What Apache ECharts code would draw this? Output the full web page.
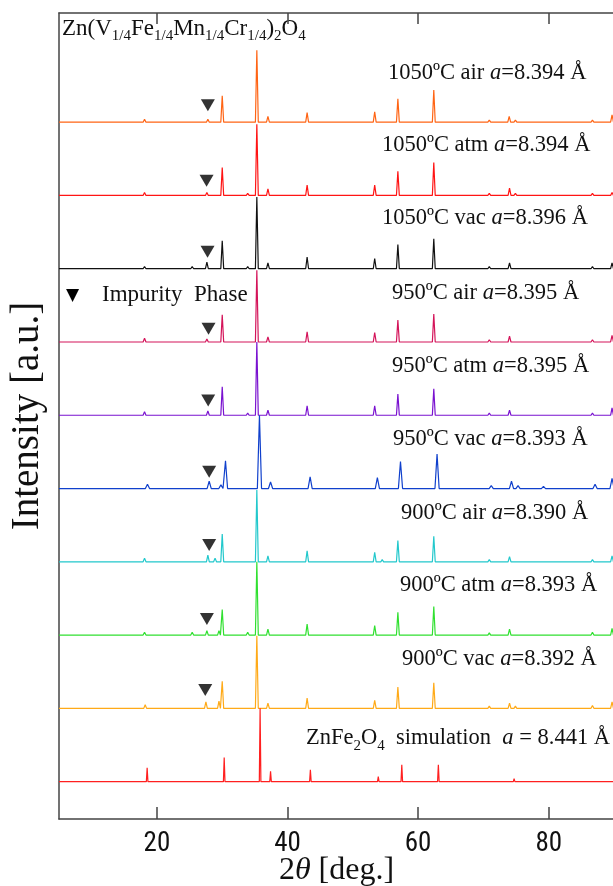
<!DOCTYPE html>
<html><head><meta charset="utf-8">
<script src="https://cdn.jsdelivr.net/npm/echarts/dist/echarts.min.js"></script>
<style>html,body{margin:0;padding:0;background:#fff}#c{width:613px;height:886px}</style>
</head><body><div id="c"></div>
<script>
// ---- data ----
const xTicks = [20, 40, 60, 80];
const xRange = [5, 90];
const yRange = [-51, 1049];
const traceNames = ['1050 air','1050 atm','1050 vac','950 air','950 atm','950 vac','900 air','900 atm','900 vac','ZnFe2O4 sim'];
const traceOffsets = [900, 800, 700, 600, 500, 400, 300, 200, 100, 0];
// peaks: [2theta, relative intensity]
const peaks1050air = [[18.1,4],[27.8,4],[30.0,36],[35.3,98],[37.0,8],[43.0,13],[53.35,14],[56.9,32],[62.4,44],[70.9,3],[73.95,8],[74.9,3],[78.9,2],[86.7,3],[89.7,10]];
const peaks1050atm = [[18.1,4],[25.4,2],[27.65,4],[30.0,38],[31.4,2],[33.9,3],[35.3,97],[37.0,9],[43.0,14],[53.35,14],[56.9,33],[62.4,45],[70.9,3],[74.0,10],[74.9,3],[78.9,2],[86.7,3],[89.7,4]];
const peaks1050vac = [[18.1,3],[25.4,3],[27.65,9],[30.0,38],[31.4,2],[33.9,3],[35.3,98],[37.0,8],[43.0,16],[53.35,14],[56.9,33],[62.4,41],[70.9,3],[74.0,8],[78.9,2],[86.7,3],[89.7,8]];
const peaks950air = [[18.1,5],[27.65,4],[30.0,37],[35.3,98],[37.0,7],[43.0,14],[53.35,13],[56.9,30],[62.4,38],[70.9,3],[74.0,8],[74.9,2],[78.9,2],[86.7,3],[89.7,9]];
const peaks950atm = [[18.1,5],[25.4,2],[27.8,6],[30.0,39],[31.4,2],[33.9,3],[35.3,100],[37.0,7],[43.0,13],[53.35,13],[56.9,29],[62.4,36],[70.9,3],[74.0,7],[86.7,3],[89.7,10]];
const peaks950vac = [[18.55,6],[28.0,10],[29.8,5],[30.5,38],[35.7,100],[37.4,9],[43.46,16],[53.76,15],[57.3,37],[62.9,47],[71.2,4],[74.3,10],[75.3,4],[79.2,3],[87.1,6],[89.7,14]];
const peaks900air = [[18.1,5],[27.8,9],[28.9,5],[30.0,38],[35.3,98],[37.0,8],[43.0,15],[53.35,13],[54.5,3],[56.9,29],[62.4,35],[70.9,3],[74.0,7],[78.9,2],[86.7,3],[89.7,8]];
const peaks900atm = [[18.1,4],[25.4,4],[27.65,6],[29.5,6],[30.0,35],[31.4,2],[33.9,4],[35.3,100],[37.0,8],[43.0,15],[53.35,13],[56.9,31],[62.4,39],[70.9,3],[74.0,8],[78.9,2],[86.7,4],[89.7,9]];
const peaks900vac = [[18.2,5],[27.5,9],[29.5,10],[30.0,37],[35.3,99],[37.0,7],[43.0,14],[46.0,1],[53.35,11],[56.9,29],[62.4,35],[70.9,3],[74.0,7],[74.9,3],[78.9,2],[86.7,4],[89.7,9]];
const peaksSim = [[18.5,19],[30.3,33],[35.8,100],[37.4,14],[43.5,16],[47.6,1],[53.9,7],[57.5,23],[63.1,23],[66.4,1],[71.6,1],[74.7,4],[75.6,2],[79.7,1],[82.7,1],[87.6,2]];
const allPeaks = [peaks1050air, peaks1050atm, peaks1050vac, peaks950air, peaks950atm, peaks950vac, peaks900air, peaks900atm, peaks900vac, peaksSim];
// impurity markers: 2theta, height above baseline
const impurityX = [27.8, 27.6, 27.75, 27.9, 27.85, 28.0, 28.0, 27.65, 27.4];
const impurityDy = [23, 20, 23, 18, 20, 23, 23, 22, 25];
const sampleLabels = [
  '1050ºC air {i|a}=8.394 Å', '1050ºC atm {i|a}=8.394 Å', '1050ºC vac {i|a}=8.396 Å',
  '950ºC air {i|a}=8.395 Å', '950ºC atm {i|a}=8.395 Å', '950ºC vac {i|a}=8.393 Å',
  '900ºC air {i|a}=8.390 Å', '900ºC atm {i|a}=8.393 Å', '900ºC vac {i|a}=8.392 Å'
];

// ---- styles ----
const colors = ['#ff6414','#ff1414','#111111','#d4145a','#7a12d0','#1040cc','#22c8cc','#30e030','#ffaa18','#ff2020'];
const halfWidths = [0.22,0.22,0.22,0.22,0.22,0.32,0.22,0.22,0.22,0.12];
const labelLeft = [388, 382, 382, 392, 392, 393, 401, 400, 402];
const labelY = [75, 147, 220, 295, 368, 441, 515, 587, 661];
const serif = "'Liberation Serif','Times New Roman',serif";

function buildLine(pk, off, hw) {
  const pts = [[xRange[0], off]];
  pk.forEach(([p, h]) => { pts.push([p - hw, off], [p, off + h], [p + hw, off]); });
  pts.push([xRange[1], off]);
  return pts;
}

const series = allPeaks.map((pk, i) => ({
  type: 'line', name: traceNames[i], data: buildLine(pk, traceOffsets[i], halfWidths[i]),
  showSymbol: false, symbol: 'none', silent: true, animation: false,
  lineStyle: { color: colors[i], width: 1.2 }, z: 2 + i
}));
series.push({
  type: 'scatter', symbol: 'triangle', symbolRotate: 180, symbolSize: [14, 12],
  itemStyle: { color: '#000' }, silent: true, animation: false, z: 20,
  data: impurityX.map((x, i) => [x, traceOffsets[i] + impurityDy[i]])
});

const graphic = sampleLabels.map((t, i) => ({
  type: 'text', left: labelLeft[i], top: labelY[i] - 13, silent: true,
  style: { text: t, font: '22.5px ' + serif, fill: '#111', rich: { i: { fontStyle: 'italic', fontSize: 22.5, fontFamily: serif } } }
}));
graphic.push({
  type: 'text', right: 3, top: 727, silent: true,
  style: {
    text: '{n|ZnFe}{s|2}{n|O}{s|4}{n|  simulation  }{i|a}{n| = 8.441 Å}',
    fill: '#111',
    rich: {
      n: { fontSize: 22.5, fontFamily: serif, verticalAlign: 'top', lineHeight: 24 },
      i: { fontSize: 22.5, fontFamily: serif, fontStyle: 'italic', verticalAlign: 'top', lineHeight: 24 },
      s: { fontSize: 15, fontFamily: serif, verticalAlign: 'top', lineHeight: 15, padding: [12, 0, 0, 0] }
    }
  }
});
graphic.push({
  type: 'text', left: 62, top: 17, silent: true,
  style: {
    text: '{n|Zn(V}{s|1/4}{n|Fe}{s|1/4}{n|Mn}{s|1/4}{n|Cr}{s|1/4}{n|)}{s|2}{n|O}{s|4}',
    fill: '#111',
    rich: {
      n: { fontSize: 23, fontFamily: serif, verticalAlign: 'top', lineHeight: 24 },
      s: { fontSize: 15, fontFamily: serif, verticalAlign: 'top', lineHeight: 15, padding: [12, 0, 0, 0] }
    }
  }
});
graphic.push({
  type: 'text', left: 66, top: 287, silent: true,
  style: { text: '▼', font: "17px 'DejaVu Sans',sans-serif", fill: '#000' }
});
graphic.push({
  type: 'text', left: 102, top: 283, silent: true,
  style: { text: 'Impurity  Phase', font: '23px ' + serif, fill: '#111' }
});

const axisLineStyle = { color: '#444', width: 1.5 };
const option = {
  backgroundColor: '#fff',
  animation: false,
  grid: { left: 59, right: -1, top: 13, bottom: 67, outerBoundsMode: 'none', containLabel: false },
  xAxis: [{
    type: 'value', min: xRange[0], max: xRange[1], position: 'bottom',
    axisLine: { show: true, onZero: false, lineStyle: axisLineStyle },
    axisTick: { show: true, inside: true, length: 12, customValues: xTicks, lineStyle: axisLineStyle },
    axisLabel: { customValues: xTicks, fontSize: 27, margin: 12, color: '#111', fontFamily: "'Liberation Sans Narrow','Roboto Condensed','Liberation Sans',sans-serif" },
    splitLine: { show: false },
    name: '{n|2}{i|θ}{n| [deg.]}', nameLocation: 'middle', nameGap: 36, nameMoveOverlap: false,
    nameTextStyle: { rich: { n: { fontSize: 32, fontFamily: serif, color: '#111' }, i: { fontSize: 32, fontFamily: serif, fontStyle: 'italic', color: '#111' } } }
  }, {
    type: 'value', min: xRange[0], max: xRange[1], position: 'top',
    axisLine: { show: true, onZero: false, lineStyle: axisLineStyle },
    axisTick: { show: true, inside: true, length: 11, customValues: xTicks, lineStyle: axisLineStyle },
    axisLabel: { show: false }, splitLine: { show: false }
  }],
  yAxis: {
    type: 'value', min: yRange[0], max: yRange[1],
    axisLine: { show: true, onZero: false, lineStyle: axisLineStyle },
    axisTick: { show: false }, axisLabel: { show: false }, splitLine: { show: false },
    name: 'Intensity [a.u.]', nameLocation: 'middle', nameGap: 12, nameMoveOverlap: false,
    nameTextStyle: { fontSize: 39, fontFamily: serif, color: '#111' }
  },
  graphic: graphic,
  series: series
};
const chart = echarts.init(document.getElementById('c'), null, { renderer: 'canvas' });
chart.setOption(option);
</script></body></html>
